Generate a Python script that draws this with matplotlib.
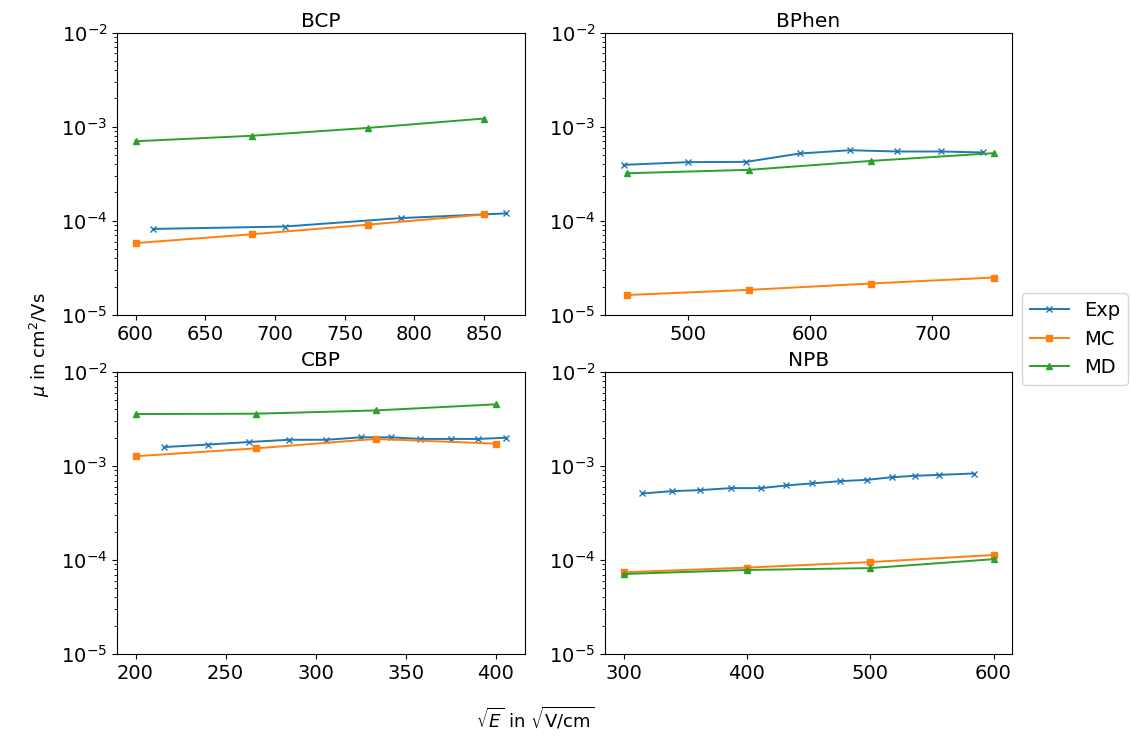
import numpy as np
import matplotlib
matplotlib.use('Agg')
import matplotlib.pyplot as plt
from matplotlib.ticker import MultipleLocator

# sqrt(E) values and mobilities
bcp_exp_x = [612.4, 707.1, 790.6, 866.0]
bcp_exp_y = [8.2e-5, 8.7e-5, 1.07e-4, 1.2e-4]
bcp_sim_x = [600, 683.3, 766.7, 850]
bcp_mc_y = [5.8e-5, 7.2e-5, 9.1e-5, 1.17e-4]
bcp_md_y = [7.0e-4, 8.0e-4, 9.7e-4, 1.22e-3]

bphen_exp_x = [447.2, 500, 547.7, 591.6, 632.5, 670.8, 707.1, 741.6]
bphen_exp_y = [3.93e-4, 4.2e-4, 4.23e-4, 5.19e-4, 5.62e-4, 5.45e-4, 5.45e-4, 5.32e-4]
bphen_sim_x = [450, 550, 650, 750]
bphen_mc_y = [1.63e-5, 1.85e-5, 2.16e-5, 2.5e-5]
bphen_md_y = [3.2e-4, 3.48e-4, 4.33e-4, 5.23e-4]

cbp_exp_x = [216, 240, 263, 285, 306, 325, 342, 358, 375, 390, 406]
cbp_exp_y = [1.59e-3, 1.69e-3, 1.8e-3, 1.9e-3, 1.9e-3, 2.02e-3, 2.02e-3,
             1.94e-3, 1.94e-3, 1.94e-3, 2.0e-3]
cbp_sim_x = [200, 266.7, 333.3, 400]
cbp_mc_y = [1.27e-3, 1.54e-3, 1.94e-3, 1.73e-3]
cbp_md_y = [3.57e-3, 3.6e-3, 3.9e-3, 4.53e-3]

npb_exp_x = [315.4, 339, 362.3, 387.2, 411.6, 431.9, 452.5, 475.5, 497.7,
             517.5, 536.4, 555.9, 583.9]
npb_exp_y = [5.1e-4, 5.4e-4, 5.54e-4, 5.82e-4, 5.82e-4, 6.21e-4, 6.52e-4,
             6.9e-4, 7.13e-4, 7.6e-4, 7.86e-4, 8.05e-4, 8.32e-4]
npb_sim_x = [300, 400, 500, 600]
npb_mc_y = [7.4e-5, 8.3e-5, 9.5e-5, 1.13e-4]
npb_md_y = [7.1e-5, 7.83e-5, 8.2e-5, 1.02e-4]

panels = [
    ('BCP', bcp_exp_x, bcp_exp_y, bcp_sim_x, bcp_mc_y, bcp_md_y, 50),
    ('BPhen', bphen_exp_x, bphen_exp_y, bphen_sim_x, bphen_mc_y, bphen_md_y, 100),
    ('CBP', cbp_exp_x, cbp_exp_y, cbp_sim_x, cbp_mc_y, cbp_md_y, 50),
    ('NPB', npb_exp_x, npb_exp_y, npb_sim_x, npb_mc_y, npb_md_y, 100),
]

W, H = 1131, 740
fig = plt.figure(figsize=(W/100, H/100), dpi=100)

# axes boxes in pixels: left, top, right, bottom
boxes = [(117, 32.5, 525, 315), (605, 32.5, 1012, 315),
         (117, 372, 525, 654), (605, 372, 1012, 654)]

fs = 14
for (name, ex, ey, sx, mc, md, step), (l, t, r, b) in zip(panels, boxes):
    ax = fig.add_axes([l/W, 1-b/H, (r-l)/W, (b-t)/H])
    ax.plot(ex, ey, marker='x', color='#1f77b4', lw=1.4, ms=5, label='Exp')
    ax.plot(sx, mc, marker='s', color='#ff7f0e', lw=1.4, ms=5, label='MC')
    ax.plot(sx, md, marker='^', color='#2ca02c', lw=1.4, ms=5, label='MD')
    ax.set_yscale('log')
    ax.set_ylim(1e-5, 1e-2)
    ax.xaxis.set_major_locator(MultipleLocator(step))
    ax.set_title(name, fontsize=14.5, pad=4)
    ax.tick_params(labelsize=fs)

handles, labels = ax.get_legend_handles_labels()
fig.legend(handles, labels, loc='upper left', fontsize=fs,
           bbox_to_anchor=(1022/W, 1-293/H), borderaxespad=0.)

fig.text(40/W, 1-345/H, r'$\mu$ in cm$^2$/Vs', rotation=90, fontsize=13,
         ha='center', va='center')
fig.text(535/W, 1-718/H, r'$\sqrt{E}$ in $\sqrt{\mathrm{V/cm}}$', fontsize=13,
         ha='center', va='center')

fig.savefig('out.png', dpi=100)
